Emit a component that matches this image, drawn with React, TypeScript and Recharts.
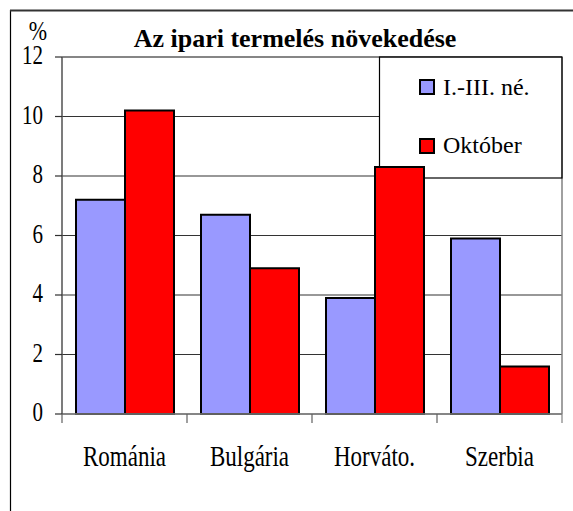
import React from 'react';
import { BarChart, Bar, XAxis, YAxis, CartesianGrid, Customized } from 'recharts';

const categories = ['Románia', 'Bulgária', 'Horváto.', 'Szerbia'];
const seriesJanMar = [7.2, 6.7, 3.9, 5.9];
const seriesOct = [10.2, 4.9, 8.3, 1.6];
const seriesNames = ['I.-III. né.', 'Október'];
const yTicks = [0, 2, 4, 6, 8, 10, 12];
const title = 'Az ipari termelés növekedése';
const unitLabel = '%';

const data = categories.map((c, i) => ({ name: c, a: seriesJanMar[i], b: seriesOct[i] }));

const FONT = "'Liberation Serif', 'Times New Roman', serif";
const serif: React.CSSProperties = { fontFamily: FONT };
const W = 573;
const H = 511;
const PLOT_LEFT = 62;
const PLOT_RIGHT = 562;
const PLOT_TOP = 57;
const PLOT_BOTTOM = 414;
const BLUE = '#9999FF';
const RED = '#FF0000';

const YTick = (props: any) => {
  const { x, y, payload } = props;
  return (
    <g transform={`translate(${x},${y})`}>
      <text
        x={0}
        y={0}
        transform="scale(1,1.27) translate(0,5.9)"
        textAnchor="end"
        style={serif}
        fontSize={21}
        fill="#000"
      >
        {payload.value}
      </text>
    </g>
  );
};

const XTick = (props: any) => {
  const { x, y, payload, index } = props;
  const half = payload && payload.offset ? payload.offset : 62.5;
  const last = index === categories.length - 1;
  return (
    <g>
      <line x1={x - half} x2={x - half} y1={y} y2={y + 9} stroke="#606060" strokeWidth={1.2} />
      {last && <line x1={x + half} x2={x + half} y1={y} y2={y + 9} stroke="#808080" strokeWidth={1.2} />}
      <g transform={`translate(${x},${y + 52})`}>
        <text x={0} y={0} transform="scale(1,1.27)" textAnchor="middle" style={serif} fontSize={23} fill="#000">
          {payload.value}
        </text>
      </g>
    </g>
  );
};

const LegendBackground = () => (
  <rect x={379} y={PLOT_TOP} width={PLOT_RIGHT - 379} height={178 - PLOT_TOP} fill="#fff" />
);

const Overlay = () => (
  <g>
    {/* outer frame (partially visible) */}
    <line x1={10.5} x2={10.5} y1={10} y2={H} stroke="#000" strokeWidth={1.2} />
    <line x1={10} x2={W} y1={10.5} y2={10.5} stroke="#333" strokeWidth={2} />
    {/* plot border top & right */}
    <line x1={PLOT_LEFT} x2={PLOT_RIGHT} y1={PLOT_TOP} y2={PLOT_TOP} stroke="#808080" strokeWidth={1.5} />
    <line x1={PLOT_RIGHT} x2={PLOT_RIGHT} y1={PLOT_TOP} y2={PLOT_BOTTOM} stroke="#808080" strokeWidth={1.5} />
    {/* title */}
    <text x={295} y={47} textAnchor="middle" style={serif} fontSize={26} fontWeight="bold" fill="#000">
      {title}
    </text>
    {/* unit */}
    <g transform="translate(38,39.5)">
      <text x={0} y={0} transform="scale(1,1.22)" textAnchor="middle" style={serif} fontSize={22} fill="#000">
        {unitLabel}
      </text>
    </g>
    {/* legend */}
    <rect x={379.5} y={PLOT_TOP} width={PLOT_RIGHT - 379.5} height={178 - PLOT_TOP} fill="none" stroke="#000" strokeWidth={1.2} />
    <rect x={420} y={80} width={14} height={14} fill={BLUE} stroke="#000" strokeWidth={2} />
    <text x={443} y={95} style={serif} fontSize={24} fill="#000">{seriesNames[0]}</text>
    <rect x={420} y={139} width={14} height={14} fill={RED} stroke="#000" strokeWidth={2} />
    <text x={443} y={153} style={serif} fontSize={24} fill="#000">{seriesNames[1]}</text>
  </g>
);

export default function App() {
  return (
    <div style={{ position: 'absolute', left: 0, top: 0, width: W, height: H, background: '#fff' }}>
      <BarChart
        width={W}
        height={H}
        data={data}
        margin={{ top: PLOT_TOP, right: W - PLOT_RIGHT, left: 12, bottom: 37 }}
        barCategoryGap={14}
        barGap={0}
        style={serif}
      >
        <CartesianGrid vertical={false} stroke="#333" strokeWidth={1.2} />
        <XAxis
          dataKey="name"
          height={60}
          axisLine={{ stroke: '#808080', strokeWidth: 1.5 }}
          tickLine={false}
          tickSize={0}
          tickMargin={0}
          tick={<XTick />}
          interval={0}
        />
        <YAxis
          width={50}
          domain={[0, 12]}
          ticks={yTicks}
          interval={0}
          axisLine={{ stroke: '#505050', strokeWidth: 1.5 }}
          tickLine={{ stroke: '#303030', strokeWidth: 1.2 }}
          tickSize={7}
          tickMargin={12}
          tick={<YTick />}
        />
        <Customized component={LegendBackground} />
        <Bar dataKey="a" name={seriesNames[0]} fill={BLUE} stroke="#000" strokeWidth={2} isAnimationActive={false} />
        <Bar dataKey="b" name={seriesNames[1]} fill={RED} stroke="#000" strokeWidth={2} isAnimationActive={false} />
        <Customized component={Overlay} />
      </BarChart>
    </div>
  );
}
